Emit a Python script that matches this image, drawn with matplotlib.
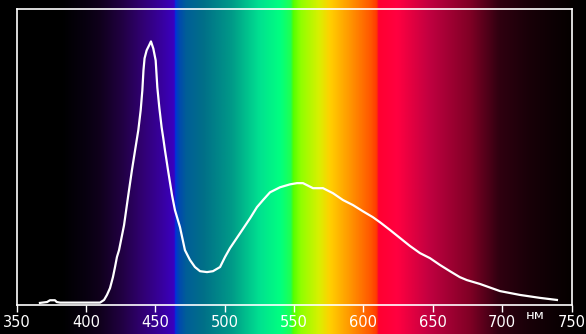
import numpy as np
import matplotlib
matplotlib.use("Agg")
import matplotlib.pyplot as plt
from matplotlib.colors import LinearSegmentedColormap, to_rgb

# Spectrum curve (wavelength nm, relative intensity)
wavelength = [366.9, 372.0, 374.1, 377.7, 379.0, 381.4, 395.8, 410.2, 413.1, 415.2,
              417.4, 419.5, 421.0, 422.4, 423.9, 427.5, 430.4, 433.2, 435.4, 437.8,
              439.5, 440.7, 441.5, 442.3, 443.8, 445.5, 446.9, 448.6, 450.3, 451.5,
              452.9, 454.6, 455.8, 457.0, 459.2, 462.1, 464.2, 467.8, 471.4, 475.0,
              478.6, 482.3, 487.3, 491.6, 496.7, 500.3, 503.9, 511.1, 518.4, 523.3,
              527.7, 532.7, 539.9, 547.2, 552.2, 556.5, 563.7, 570.9, 578.1, 585.3,
              592.5, 599.7, 606.9, 612.0, 619.2, 626.4, 633.6, 640.8, 648.0, 655.2,
              662.4, 669.5, 674.6, 684.0, 698.4, 712.8, 727.3, 739.5]
intensity = [0.007, 0.010, 0.016, 0.016, 0.010, 0.008, 0.008, 0.008, 0.017, 0.034,
             0.057, 0.094, 0.128, 0.162, 0.185, 0.269, 0.365, 0.455, 0.520, 0.590,
             0.657, 0.724, 0.791, 0.832, 0.859, 0.875, 0.889, 0.865, 0.825, 0.734,
             0.667, 0.599, 0.562, 0.522, 0.455, 0.370, 0.320, 0.263, 0.185, 0.152,
             0.128, 0.114, 0.111, 0.114, 0.128, 0.162, 0.192, 0.242, 0.293, 0.330,
             0.354, 0.380, 0.397, 0.407, 0.411, 0.411, 0.394, 0.394, 0.377, 0.354,
             0.337, 0.316, 0.296, 0.279, 0.253, 0.226, 0.199, 0.175, 0.158, 0.135,
             0.114, 0.094, 0.084, 0.071, 0.047, 0.034, 0.024, 0.017]

x_ticks = [350, 400, 450, 500, 550, 600, 650, 700, 750]
x_tick_labels = ["350", "400", "450", "500", "550", "600", "650", "700", "750"]
unit_label = "нм"

# Background spectrum gradient stops (wavelength, colour)
grad_wl = [338, 382, 400, 410, 425, 440, 455, 463.5, 464.2, 467, 472, 485, 505, 525,
           540, 548, 549.2, 555, 568, 576, 590, 605, 610, 610.8, 625, 648, 677, 698,
           720, 750, 762]
grad_col = ["#000000", "#000000", "#080010", "#10001c", "#200040", "#300070", "#3800a0",
            "#3a00c0", "#0030e0", "#0048b0", "#005e98", "#007088", "#009a88", "#00e090",
            "#00ff80", "#20ff50", "#50ff00", "#90ff00", "#d8f000", "#ffd000", "#ff9800",
            "#ff5800", "#ff3800", "#ff0030", "#ff0040", "#c00040", "#800025", "#300010",
            "#180008", "#050000", "#000000"]

W, H, DPI = 586, 334, 100
fig = plt.figure(figsize=(W / DPI, H / DPI), dpi=DPI, facecolor="black")

left_px, right_px, top_px, bot_px = 16.5, 571.5, 8.5, 305.0
xmin, xmax = 350, 750
ppn = (right_px - left_px) / (xmax - xmin)

# background gradient axes over whole figure
bg = fig.add_axes([0, 0, 1, 1])
bg_x0 = xmin - left_px / ppn
bg_x1 = xmin + (W - left_px) / ppn
lo, hi = grad_wl[0], grad_wl[-1]
cmap = LinearSegmentedColormap.from_list(
    "spec", [((w - lo) / (hi - lo), to_rgb(c)) for w, c in zip(grad_wl, grad_col)], N=1024)
xs = np.linspace(bg_x0, bg_x1, 1200)
bg.imshow(((xs - lo) / (hi - lo))[None, :], aspect="auto", cmap=cmap, vmin=0, vmax=1,
          extent=[bg_x0, bg_x1, 0, 1], interpolation="bilinear")
bg.set_xlim(bg_x0, bg_x1)
bg.set_ylim(0, 1)
bg.axis("off")

ax = fig.add_axes([left_px / W, (H - bot_px) / H, (right_px - left_px) / W,
                   (bot_px - top_px) / H])
ax.patch.set_alpha(0)
ax.plot(wavelength, intensity, color="white", lw=1.6, solid_joinstyle="round")
ax.set_xlim(xmin, xmax)
ax.set_ylim(0, 1)
ax.set_yticks([])
ax.set_xticks(x_ticks)
ax.set_xticklabels(x_tick_labels)
ax.tick_params(axis="x", colors="white", labelcolor="white", direction="out",
               length=5, width=1, labelsize=10.5, pad=2)
for s in ax.spines.values():
    s.set_color("white")
    s.set_linewidth(1.2)
ax.text(724, -0.035, unit_label, color="white", fontsize=9.5, ha="center", va="center",
        transform=ax.transData)

fig.savefig("out.png", dpi=DPI, facecolor="black")
